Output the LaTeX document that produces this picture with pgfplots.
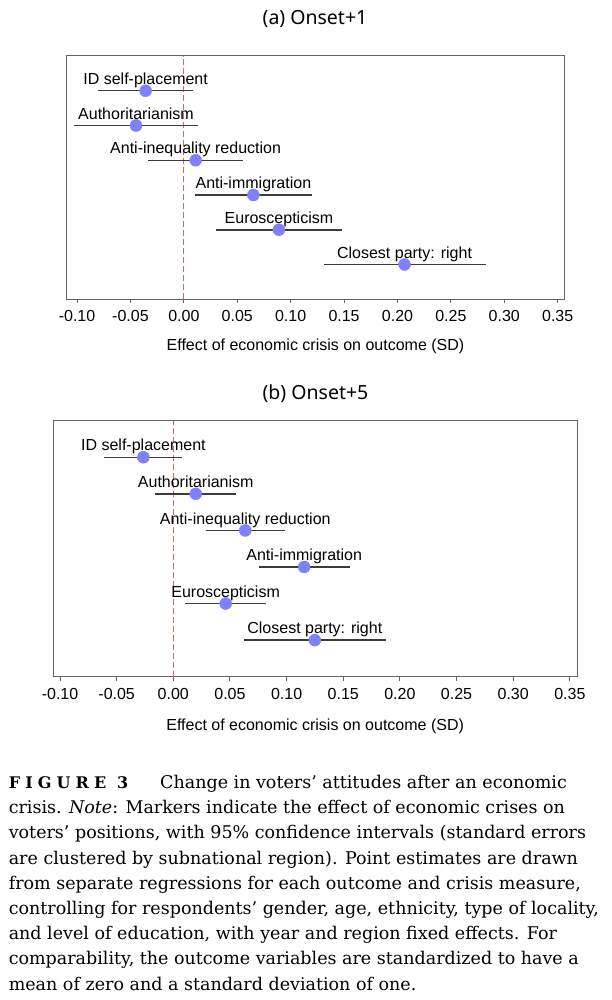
\documentclass[border=0pt]{standalone}
\usepackage{fontspec}
\setmainfont{Liberation Sans}
\newfontfamily\capfont{DejaVu Serif}
\newfontfamily\titlefont{Noto Sans}
\usepackage{pgfplots}
\pgfplotsset{compat=1.18}
\usepackage{pgfplotstable}

\definecolor{dotblue}{RGB}{128,128,250}
\definecolor{bargray}{RGB}{60,60,60}
\definecolor{axgray}{RGB}{100,100,100}
\definecolor{zeroline}{RGB}{205,105,105}

\newcommand{\chartfont}{\fontsize{16}{18}\selectfont}

\pgfplotstableread[col sep=comma]{
x,y,lo,hi,lab
-0.0358,6,-0.0800,0.0090,ID self-placement
-0.0448,5,-0.1025,0.0132,Authoritarianism
0.0110,4,-0.0339,0.0555,Anti-inequality reduction
0.0651,3,0.0106,0.1200,Anti-immigration
0.0890,2,0.0297,0.1483,Euroscepticism
0.2066,1,0.1312,0.2827,Closest party: right
}\tabA

\pgfplotstableread[col sep=comma]{
x,y,lo,hi,lab
-0.0264,6,-0.0608,0.0079,ID self-placement
0.0198,5,-0.0164,0.0550,Authoritarianism
0.0635,4,0.0289,0.0982,Anti-inequality reduction
0.1155,3,0.0757,0.1556,Anti-immigration
0.0462,2,0.0100,0.0821,Euroscepticism
0.1249,1,0.0626,0.1881,Closest party: right
}\tabB

\pgfplotsset{coefax/.style={
  scale only axis, anchor=south west, clip=false,
  ymin=0, ymax=7, ytick=\empty,
  xtick={-0.1,-0.05,0,0.05,0.1,0.15,0.2,0.25,0.3,0.35},
  xticklabels={-0.10,-0.05,0.00,0.05,0.10,0.15,0.20,0.25,0.30,0.35},
  tick align=outside, xtick pos=left, major tick length=4pt,
  axis line style={draw=axgray, line width=1pt},
  every tick/.style={draw=axgray, line width=1pt},
  xticklabel style={font=\chartfont, inner sep=0pt, yshift=-7.2pt},
  xlabel={Effect of economic crisis on outcome (SD)},
  every node near coord/.append style={font=\chartfont, inner sep=0pt, text depth=3.4pt, anchor=south, yshift=2.8pt, color=black},
}}

\newcommand{\coefplots}[1]{%
  \addplot[color=zeroline, line width=1pt, dash pattern=on 6pt off 3pt, mark=none] coordinates {(0,0) (0,7)};
  \addplot[only marks, mark=none, error bars/.cd, x dir=both, x explicit, error mark=none,
    error bar style={draw=bargray, line width=1.5pt}]
    table[x=x, y=y, x error plus expr=\thisrow{hi}-\thisrow{x}, x error minus expr=\thisrow{x}-\thisrow{lo}] {#1};
  \addplot[only marks, mark=*, mark size=6pt, mark options={fill=dotblue, draw=dotblue}] table[x=x, y=y] {#1};
  \addplot[draw=none, mark=none, nodes near coords, point meta=explicit symbolic] table[x=x, y=y, meta=lab] {#1};
}

\begin{document}
\begin{tikzpicture}
\useasboundingbox (0pt,0pt) rectangle (612pt,1000pt);

\node[font=\titlefont\fontsize{19.5}{22}\selectfont] at (315pt,981pt) {(a) Onset+1};
\begin{axis}[coefax, at={(66.9pt,700.7pt)}, width=497.2pt, height=243.3pt,
  xmin=-0.1095, xmax=0.356,
  xlabel style={font=\chartfont, at={(axis description cs:0.5,0)}, anchor=center, yshift=-47.4pt}]
\coefplots{\tabA}
\end{axis}

\node[font=\titlefont\fontsize{19.5}{22}\selectfont] at (315.5pt,606.7pt) {(b) Onset+5};
\begin{axis}[coefax, at={(53.1pt,323.3pt)}, width=524.1pt, height=256pt,
  xmin=-0.1061, xmax=0.3565,
  xlabel style={font=\chartfont, at={(axis description cs:0.5,0)}, anchor=center, yshift=-50pt}]
\coefplots{\tabB}
\end{axis}

\begin{scope}[every node/.style={anchor=base west, inner sep=0pt, font=\capfont\fontsize{17.5}{25.2}\selectfont}]
\node at (8.6pt,211.5pt) {\bfseries\fontsize{16}{18}\selectfont\addfontfeatures{LetterSpace=32}FIGURE 3};
\node at (160pt,211.5pt) {Change in voters’ attitudes after an economic};
\node at (8.6pt,186.3pt) {crisis. \textit{Note}: Markers indicate the effect of economic crises on};
\node at (8.6pt,161.1pt) {voters’ positions, with 95\% confidence intervals (standard errors};
\node at (8.6pt,135.9pt) {are clustered by subnational region). Point estimates are drawn};
\node at (8.6pt,110.7pt) {from separate regressions for each outcome and crisis measure,};
\node at (8.6pt,85.5pt) {controlling for respondents’ gender, age, ethnicity, type of locality,};
\node at (8.6pt,60.3pt) {and level of education, with year and region fixed effects. For};
\node at (8.6pt,35.1pt) {comparability, the outcome variables are standardized to have a};
\node at (8.6pt,9.9pt) {mean of zero and a standard deviation of one.};
\end{scope}
\end{tikzpicture}
\end{document}
